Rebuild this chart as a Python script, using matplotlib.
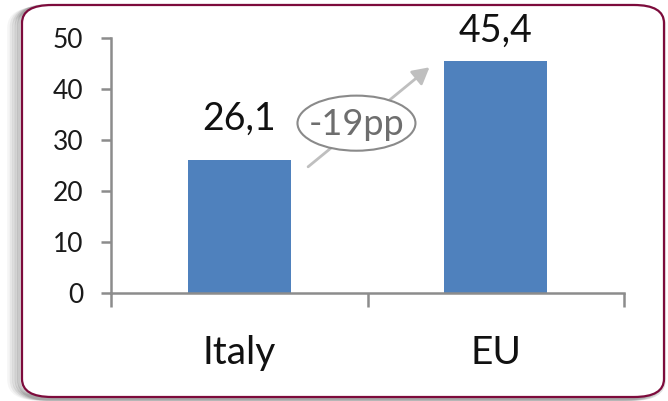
import matplotlib
matplotlib.use("Agg")
import matplotlib.pyplot as plt
from matplotlib.patches import FancyBboxPatch, Ellipse

categories = ["Italy", "EU"]
values = [26.1, 45.4]
value_labels = ["26,1", "45,4"]
gap_label = "-19pp"
yticks = [0, 10, 20, 30, 40, 50]

# label lift above each bar, in points (hand placed in the source chart)
label_lift = [22, 14]

plt.rcParams["font.family"] = ["Lato", "DejaVu Sans"]

fig = plt.figure(figsize=(6.68, 4.01), dpi=100)
W, H = 668, 401

# rounded frame with soft shadow on the left / bottom
for i, a in enumerate([0.04, 0.06, 0.08, 0.10, 0.12]):
    off = 12 - 2.5 * i
    sh = FancyBboxPatch(((22 - off) / W, 3 / H), 643 / W, (392 - off * 0.3) / H,
                        boxstyle="round,pad=0,rounding_size=0.045",
                        transform=fig.transFigure, facecolor="none",
                        edgecolor="black", alpha=a, lw=4, zorder=0)
    fig.patches.append(sh)
frame = FancyBboxPatch((22 / W, 4 / H), 642 / W, 392 / H,
                       boxstyle="round,pad=0,rounding_size=0.045",
                       transform=fig.transFigure, facecolor="white",
                       edgecolor="#7d0b3c", lw=1.6, zorder=1)
fig.patches.append(frame)

ax = fig.add_axes([111 / W, 1 - 293 / H, (624 - 111) / W, (293 - 38) / H])
ax.set_facecolor("none")
ax.set_zorder(2)

x = list(range(len(categories)))
ax.bar(x, values, width=0.4, color="#4f81bd", zorder=2)
ax.set_xlim(-0.5, 1.5)
ax.set_ylim(0, 50)

for xi, v, lab, lift in zip(x, values, value_labels, label_lift):
    ax.annotate(lab, (xi, v), xytext=(0, lift), textcoords="offset points",
                ha="center", va="baseline", fontsize=27, color="#111111")

axis_col = "#8c8c8c"
for side in ["top", "right"]:
    ax.spines[side].set_visible(False)
for side in ["left", "bottom"]:
    ax.spines[side].set_color(axis_col)
    ax.spines[side].set_linewidth(1.8)

ax.set_yticks(yticks)
ax.set_yticklabels([str(t) for t in yticks])
ax.tick_params(axis="y", direction="out", length=7, width=1.8, color=axis_col,
               labelsize=19, pad=13, labelcolor="#1a1a1a")

# category boundaries carry the x ticks, labels sit in between
ax.set_xticks([-0.5, 0.5, 1.5])
ax.set_xticklabels([])
ax.set_xticks(x, minor=True)
ax.set_xticklabels(categories, minor=True)
ax.tick_params(axis="x", which="major", direction="out", length=10, width=1.8, color=axis_col)
ax.tick_params(axis="x", which="minor", length=0, labelsize=28, pad=30, labelcolor="#111111")

ax.annotate("", xy=(0.75, 44.6), xytext=(0.26, 24.4),
            arrowprops=dict(arrowstyle="-|>,head_length=1.0,head_width=0.55",
                            color="#bfbfbf", lw=2), zorder=3)
ax.add_patch(Ellipse((0.457, 33.3), 0.46, 10.8, facecolor="white",
                     edgecolor="#8a8a8a", lw=1.5, zorder=4))
ax.text(0.457, 33.0, gap_label, ha="center", va="center", fontsize=26,
        color="#6e6e6e", zorder=5)

fig.savefig("out.png", dpi=100)
